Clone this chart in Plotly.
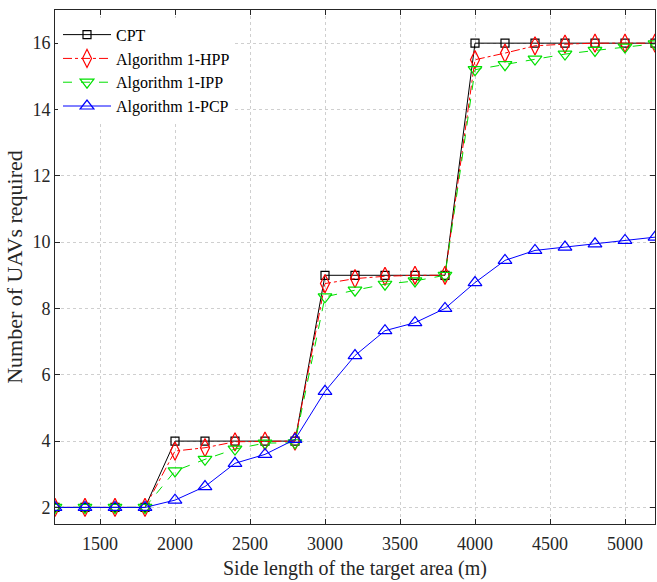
import plotly.graph_objects as go

side_length = [1200, 1400, 1600, 1800, 2000, 2200, 2400, 2600, 2800, 3000, 3200,
               3400, 3600, 3800, 4000, 4200, 4400, 4600, 4800, 5000, 5200]
cpt = [2, 2, 2, 2, 4, 4, 4, 4, 4, 9, 9, 9, 9, 9, 16, 16, 16, 16, 16, 16, 16]
hpp = [2, 2, 2, 2, 3.7, 3.8, 3.98, 4.0, 4.0, 8.75, 8.9, 8.97, 9.0, 9.0,
       15.5, 15.7, 15.92, 15.97, 16.0, 16.0, 16.0]
ipp = [2, 2, 2, 2, 3.1, 3.45, 3.76, 3.94, 3.95, 8.35, 8.55, 8.73, 8.83, 9.0,
       15.2, 15.35, 15.52, 15.67, 15.78, 15.88, 15.98]
pcp = [2, 2, 2, 2, 2.22, 2.63, 3.33, 3.6, 4.05, 5.5, 6.58, 7.33, 7.57, 8.0,
       8.78, 9.45, 9.75, 9.85, 9.95, 10.05, 10.15]

x_ticks = [1500, 2000, 2500, 3000, 3500, 4000, 4500, 5000]
y_ticks = [2, 4, 6, 8, 10, 12, 14, 16]

series = [
    ("CPT", cpt, "black", "solid", "square-open", 8),
    ("Algorithm 1-HPP", hpp, "red", "dashdot", "diamond-tall-open", 13),
    ("Algorithm 1-IPP", ipp, "#00e000", "dash", "triangle-down-open", 12),
    ("Algorithm 1-PCP", pcp, "blue", "solid", "triangle-up-open", 12),
]

fig = go.Figure()
for name, vals, color, dash, symbol, size in series:
    fig.add_trace(go.Scatter(
        x=side_length, y=vals, name=name, mode="lines+markers",
        line=dict(color=color, width=1, dash=dash),
        marker=dict(symbol=symbol, size=size, color=color,
                    line=dict(color=color, width=1.2)),
    ))

font_family = "'Liberation Serif', 'Times New Roman', 'DejaVu Serif', serif"
axis_common = dict(
    showline=True, linecolor="#262626", linewidth=1, mirror="ticks",
    ticks="inside", ticklen=5, tickcolor="#262626",
    showgrid=True, gridcolor="#cfcfcf", griddash="dot", gridwidth=1,
    zeroline=False, automargin=False,
    tickfont=dict(family=font_family, size=18, color="#262626"),
)

fig.update_layout(
    width=657, height=582,
    margin=dict(l=55, r=2, t=10, b=58),
    paper_bgcolor="white", plot_bgcolor="white",
    font=dict(family=font_family, size=18, color="#262626"),
    xaxis=dict(range=[1200, 5200], tickvals=x_ticks, ticklabelstandoff=3,
               title=dict(text="Side length of the target area (m)",
                          font=dict(family=font_family, size=20), standoff=8),
               **axis_common),
    yaxis=dict(range=[1.5, 17], tickvals=y_ticks,
               title=dict(text="Number of UAVs required",
                          font=dict(family=font_family, size=22), standoff=3),
               **axis_common),
    legend=dict(x=0.005, y=0.985, xanchor="left", yanchor="top",
                bgcolor="rgba(255,255,255,1)", borderwidth=0,
                font=dict(family=font_family, size=16, color="black"),
                tracegroupgap=0, itemwidth=48),
    showlegend=True,
)

fig.write_html("out.html", config={"displayModeBar": False},
               post_script="document.body.style.margin='0';document.body.style.padding='0';")
